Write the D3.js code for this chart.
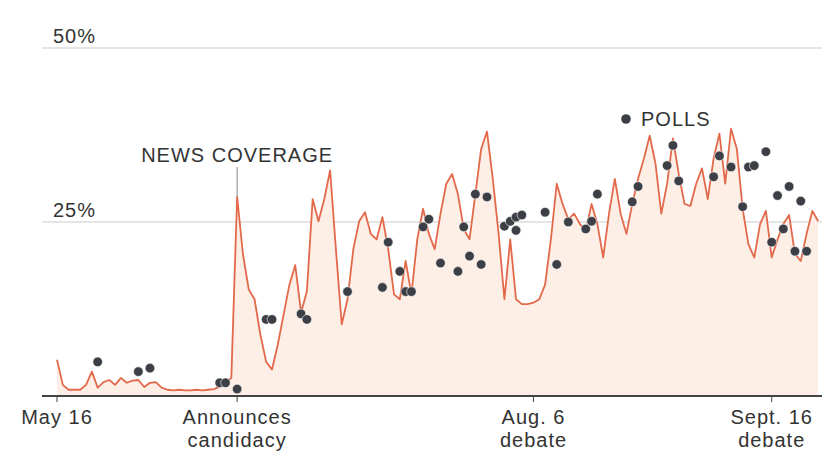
<!DOCTYPE html>
<html>

<head>
    <meta charset="UTF-8">
    <title>News coverage vs polls</title>
    <style>
        body {
            margin: 0;
            background: white;
        }

        svg text {
            font-family: "Liberation Sans", Arial, sans-serif;
            fill: #333;
            letter-spacing: 1px;
        }
    </style>
</head>

<body>
    <svg></svg>
    <script src="https://d3js.org/d3.v7.min.js"></script>
    <script>

        let width = 826, height = 466

        let svg = d3.select("svg")
            .attr("width", width)
            .attr("height", height)

        // daily share of news coverage (%), starting May 16
        let coverageStart = "2015-05-16"
        let coverage = [
            5.2, 1.6, 0.9, 0.9, 0.9, 1.6, 3.5, 1.2, 2.0, 2.3,
            1.6, 2.6, 1.9, 2.2, 2.3, 1.3, 1.9, 2.0, 1.2, 0.9,
            0.8, 0.9, 0.8, 0.8, 0.9, 0.8, 0.9, 1.0, 1.3, 1.9,
            2.6, 28.6, 20.4, 15.3, 13.9, 8.8, 4.9, 3.8, 7.4, 11.7,
            16.0, 18.8, 12.0, 15.0, 28.3, 25.1, 28.3, 32.4, 21.1, 10.3,
            13.9, 21.1, 25.1, 26.4, 23.3, 22.5, 25.7, 21.1, 14.6, 13.9,
            19.4, 14.6, 22.5, 26.9, 23.3, 21.1, 26.2, 30.5, 31.9, 29.0,
            24.0, 22.5, 29.0, 35.5, 38.0, 31.2, 23.3, 13.9, 22.5, 13.9,
            13.2, 13.2, 13.4, 13.9, 16.0, 22.5, 30.5, 27.6, 25.4, 26.2,
            24.7, 23.7, 27.6, 24.7, 19.9, 26.2, 31.2, 26.2, 23.3, 27.6,
            31.2, 34.1, 37.4, 33.4, 26.2, 30.5, 37.0, 31.9, 27.6, 27.3,
            30.5, 32.7, 28.3, 34.1, 37.7, 30.5, 38.4, 35.5, 26.9, 21.8,
            19.9, 24.7, 26.6, 19.9, 22.5, 24.7, 26.0, 20.4, 19.4, 23.3,
            26.6, 25.1
        ]

        // individual polls
        let pollDates = [
            "2015-05-23", "2015-05-30", "2015-06-01", "2015-06-13", "2015-06-14", "2015-06-16",
            "2015-06-21", "2015-06-22", "2015-06-27", "2015-06-28", "2015-07-05", "2015-07-11",
            "2015-07-12", "2015-07-14", "2015-07-15", "2015-07-16", "2015-07-18", "2015-07-19",
            "2015-07-21", "2015-07-24", "2015-07-25", "2015-07-26", "2015-07-27", "2015-07-28",
            "2015-07-29", "2015-08-01", "2015-08-02", "2015-08-03", "2015-08-03", "2015-08-04",
            "2015-08-08", "2015-08-10", "2015-08-12", "2015-08-15", "2015-08-16", "2015-08-17",
            "2015-08-23", "2015-08-24", "2015-08-29", "2015-08-30", "2015-08-31", "2015-09-06",
            "2015-09-07", "2015-09-09", "2015-09-11", "2015-09-12", "2015-09-13", "2015-09-15",
            "2015-09-16", "2015-09-17", "2015-09-18", "2015-09-19", "2015-09-20", "2015-09-21",
            "2015-09-22"
        ]
        let pollValues = [
            4.9, 3.5, 4.0, 1.9, 1.9, 1.0,
            11.0, 11.0, 11.8, 11.0, 15.0, 15.6,
            22.1, 17.9, 15.0, 15.0, 24.3, 25.4,
            19.1, 17.9, 24.3, 20.1, 29.0, 18.9,
            28.6, 24.4, 25.1, 25.7, 23.8, 26.0,
            26.4, 18.9, 25.0, 24.0, 25.1, 29.0,
            27.9, 30.1, 33.1, 36.0, 30.9, 31.5,
            34.5, 32.9, 27.2, 32.9, 33.1, 35.1,
            22.1, 28.8, 24.0, 30.1, 20.8, 28.0,
            20.8
        ]

        // axis ticks
        let tickDates = ["2015-05-16", "2015-06-16", "2015-08-06", "2015-09-16"]
        let tickLabels = [["May 16"], ["Announces", "candidacy"], ["Aug. 6", "debate"], ["Sept. 16", "debate"]]
        let gridValues = [25, 50]

        let parse = d3.timeParse("%Y-%m-%d")
        let start = parse(coverageStart)

        let coverageData = coverage.map((v, i) => ({ date: d3.timeDay.offset(start, i), value: v }))
        let pollData = pollDates.map((d, i) => ({ date: parse(d), value: pollValues[i] }))

        let x = d3.scaleTime()
            .domain([start, parse("2015-09-25")])
            .range([57, 824])

        let y = d3.scaleLinear()
            .domain([0, 50])
            .range([396, 48])

        // gridlines + labels
        svg.append("g")
            .selectAll("line")
            .data(gridValues)
            .enter()
            .append("line")
            .attr("x1", 42)
            .attr("x2", 822)
            .attr("y1", d => y(d))
            .attr("y2", d => y(d))
            .attr("stroke", "#ddd")
            .attr("stroke-width", 1.5)

        svg.append("g")
            .selectAll("text")
            .data(gridValues)
            .enter()
            .append("text")
            .attr("x", 53)
            .attr("y", d => y(d) - 5)
            .style("font-size", "20px")
            .text(d => d + "%")

        // coverage area + line
        let area = d3.area()
            .x(d => x(d.date))
            .y0(y(0))
            .y1(d => y(d.value))

        let line = d3.line()
            .x(d => x(d.date))
            .y(d => y(d.value))

        svg.append("path")
            .datum(coverageData)
            .attr("d", area)
            .attr("fill", "#fdeee6")

        svg.append("path")
            .datum(coverageData)
            .attr("d", line)
            .attr("fill", "none")
            .attr("stroke", "#e3694b")
            .attr("stroke-width", 1.8)
            .attr("stroke-linejoin", "round")

        // x axis
        svg.append("line")
            .attr("x1", 42)
            .attr("x2", 822)
            .attr("y1", y(0))
            .attr("y2", y(0))
            .attr("stroke", "#444")
            .attr("stroke-width", 2)

        let ticks = svg.append("g")
            .selectAll("g")
            .data(tickDates)
            .enter()
            .append("g")
            .attr("transform", d => "translate(" + x(parse(d)) + "," + y(0) + ")")

        ticks.append("line")
            .attr("y1", 0)
            .attr("y2", 6)
            .attr("stroke", "#444")

        ticks.append("text")
            .attr("text-anchor", "middle")
            .style("font-size", "20px")
            .selectAll("tspan")
            .data((d, i) => tickLabels[i])
            .enter()
            .append("tspan")
            .attr("x", 0)
            .attr("y", (d, i) => 28 + i * 23)
            .text(d => d)

        // polls
        svg.append("g")
            .selectAll("circle")
            .data(pollData)
            .enter()
            .append("circle")
            .attr("cx", d => x(d.date))
            .attr("cy", d => y(d.value))
            .attr("r", 4.8)
            .attr("fill", "#3c4046")
            .attr("stroke", "#fff")
            .attr("stroke-width", 0.6)

        // annotations
        let peak = coverageData[31]
        svg.append("line")
            .attr("x1", x(peak.date))
            .attr("x2", x(peak.date))
            .attr("y1", 167)
            .attr("y2", y(peak.value))
            .attr("stroke", "#888")

        svg.append("text")
            .attr("x", x(peak.date))
            .attr("y", 162)
            .attr("text-anchor", "middle")
            .style("font-size", "20px")
            .text("NEWS COVERAGE")

        svg.append("circle")
            .attr("cx", 626)
            .attr("cy", 119)
            .attr("r", 4.8)
            .attr("fill", "#3c4046")

        svg.append("text")
            .attr("x", 641)
            .attr("y", 126)
            .style("font-size", "20px")
            .text("POLLS")

    </script>

</body>

</html>
